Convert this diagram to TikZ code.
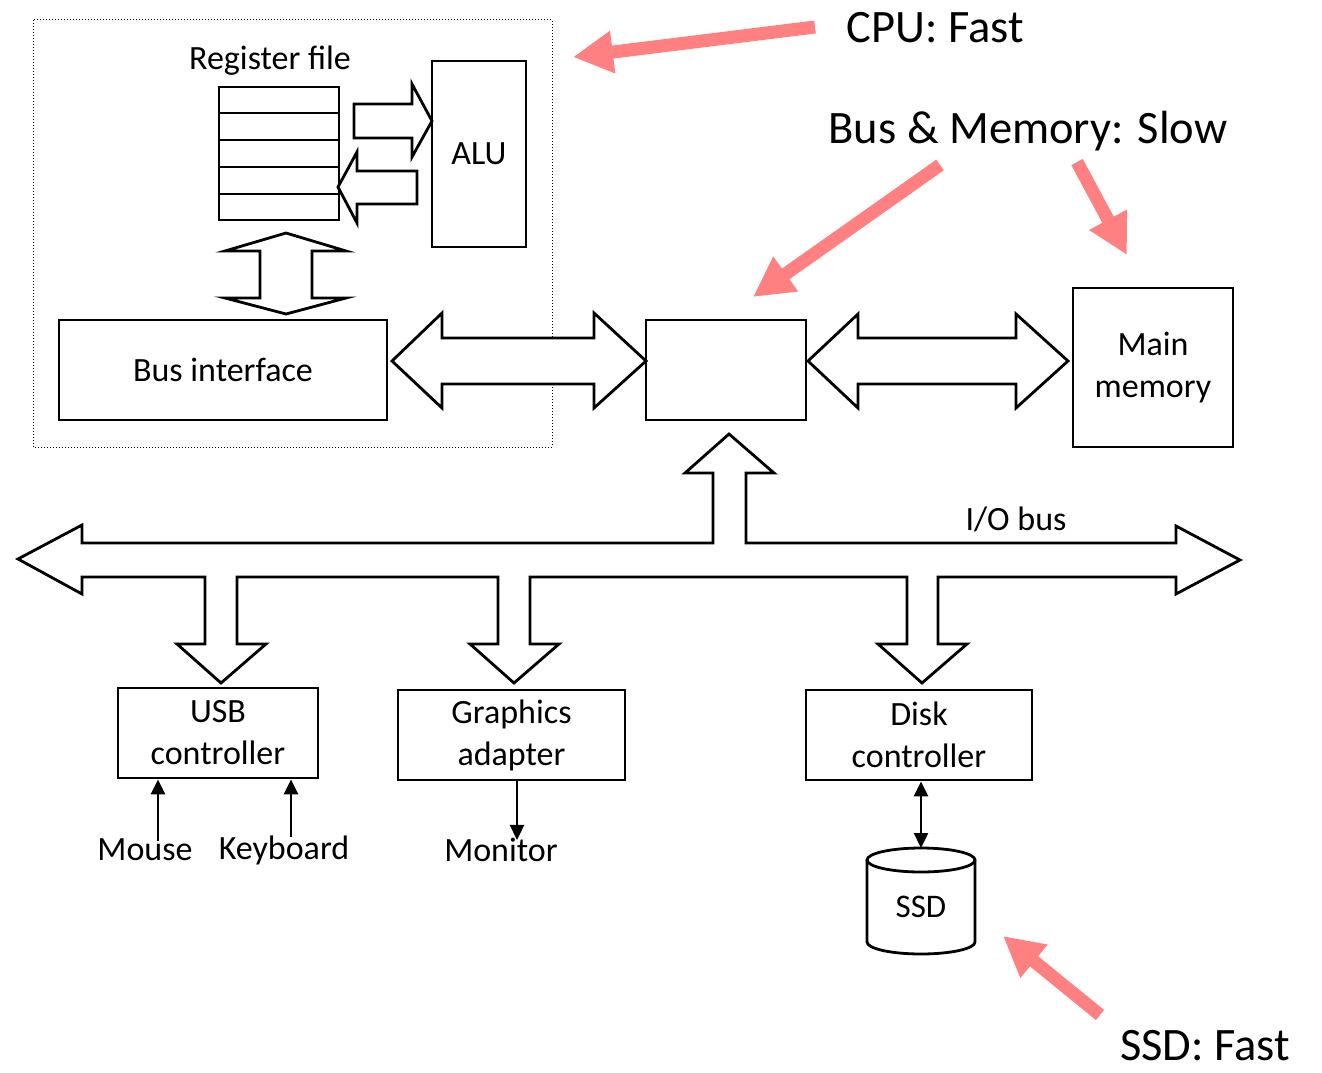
\documentclass[tikz,border=0pt]{standalone}
\usepackage{fontspec}
\setmainfont{Carlito}
\usetikzlibrary{arrows.meta}
\begin{document}
\begin{tikzpicture}[x=1pt,y=-1pt,
  lbl/.style={font=\fontsize{34}{42}\selectfont, align=center, inner sep=0pt},
  big/.style={font=\fontsize{46.5}{52}\selectfont, inner sep=0pt},
  box/.style={draw, line width=2.8pt, inner sep=0pt, font=\fontsize{34}{42}\selectfont, align=center},
  blk/.style={draw, line width=2.8pt, line join=miter, fill=white},
  thin/.style={line width=2.4pt, -{Triangle[length=15pt,width=14pt]}},
  pink/.style={draw=pinkc, line width=13pt, -{Triangle[length=40pt,width=40pt]}}
]
\definecolor{pinkc}{RGB}{255,128,128}
\useasboundingbox (0,0) rectangle (1322,1073);
\fill[white] (0,0) rectangle (1322,1073);

% CPU dotted region
\draw[line width=1pt, dash pattern=on 1pt off 2pt] (33,20) rectangle (552,447);

% Register file
\node[lbl] (regl) at (270,61) {Register file};
\node[draw, line width=2.8pt, minimum width=120pt, minimum height=133pt, inner sep=0pt] (reg) at (279,153.5) {};
\foreach \yy in {113,140,167,194} {\draw[line width=2.8pt] (219,\yy) -- (339,\yy);}

% ALU
\node[box, minimum width=94pt, minimum height=186pt] (alu) at (479,154) {ALU};

% block arrows in CPU
\draw[blk] (354,104) -- (412,104) -- (412,84) -- (432,121) -- (412,157) -- (412,138) -- (354,138) -- cycle;
\draw[blk] (417,171) -- (357,171) -- (357,152) -- (338,187) -- (357,223) -- (357,204) -- (417,204) -- cycle;
\draw[blk] (286,233) -- (346,251) -- (312,251) -- (312,298) -- (346,298) -- (286,314) -- (225,298) -- (260,298) -- (260,251) -- (225,251) -- cycle;

% Bus interface
\node[box, minimum width=328pt, minimum height=100pt] (busif) at (223,370) {Bus interface};

% I/O bridge (unlabelled)
\node[box, minimum width=160pt, minimum height=100pt] (bridge) at (726,370) {};

% Main memory
\node[box, minimum width=160pt, minimum height=159pt] (mem) at (1153,367.5) {Main\\memory};

% horizontal double arrows
\draw[blk] (392,361) -- (442,313) -- (442,338) -- (594,338) -- (594,313) -- (646,361) -- (594,408) -- (594,384) -- (442,384) -- (442,408) -- cycle;
\draw[blk] (808,361) -- (858,314) -- (858,338) -- (1016,338) -- (1016,314) -- (1068,361) -- (1016,408) -- (1016,384) -- (858,384) -- (858,408) -- cycle;

% I/O bus
\draw[blk] (18,559) -- (82,525) -- (82,543) -- (713,543) -- (713,473) -- (685,473) -- (729,434) -- (774,473) -- (746,473) -- (746,543)
  -- (1176,543) -- (1176,526) -- (1240,560) -- (1176,594) -- (1176,577)
  -- (938,577) -- (938,644) -- (967,644) -- (922,683) -- (878,644) -- (907,644) -- (907,577)
  -- (530,577) -- (530,644) -- (559,644) -- (514,683) -- (470,644) -- (498,644) -- (498,577)
  -- (237,577) -- (237,644) -- (266,644) -- (221,683) -- (177,644) -- (205,644) -- (205,577)
  -- (82,577) -- (82,594) -- cycle;
\node[lbl] (iobus) at (1016,519) {I/O bus};

% Controllers
\node[box, minimum width=200pt, minimum height=90pt] (usb) at (218,733) {USB\\controller};
\node[box, minimum width=227pt, minimum height=90pt] (gfx) at (511.5,735) {Graphics\\adapter};
\node[box, minimum width=226pt, minimum height=90pt] (disk) at (919,735) {Disk\\controller};

% Devices
\node[lbl] (mouse) at (145,850) {Mouse};
\node[lbl] (kbd) at (284,850) {Keyboard};
\node[lbl] (mon) at (501,850) {Monitor};
\draw[thin] ([xshift=13pt,yshift=-2pt]mouse.north) -- ([xshift=13pt]mouse.north |- usb.south);
\draw[thin] ([xshift=7pt,yshift=-2pt]kbd.north) -- ([xshift=7pt]kbd.north |- usb.south);
\draw[thin] ([xshift=16pt]mon.north |- gfx.south) -- ([xshift=16pt,yshift=-2pt]mon.north);

% SSD cylinder
\draw[line width=2.8pt] (867,860) -- (867,942) arc[start angle=180, end angle=0, x radius=54, y radius=12] -- (975,860);
\draw[line width=2.8pt] (921,860) ellipse [x radius=54, y radius=12];
\coordinate (ssdtop) at (921,848);
\node[lbl, font=\fontsize{33}{38}\selectfont] (ssd) at (921,907) {SSD};
\draw[line width=2.4pt, {Triangle[length=15pt,width=14pt]}-{Triangle[length=15pt,width=14pt]}] (disk.south -| ssdtop) -- (ssdtop);

% Annotations
\node[big] (cpul) at (935,28) {CPU: Fast};
\node[big] (busl) at (1028,131) {Bus \& Memory: Slow};
\node[big] (ssdl) at (1205,1046) {SSD: Fast};
\coordinate (c1s) at (815,27);  \coordinate (c1e) at (573,57);
\coordinate (b1s) at (940,165); \coordinate (b1e) at (753,297);
\coordinate (b2s) at (1077,162); \coordinate (b2e) at (1127,255);
\coordinate (s1s) at (1100,1015); \coordinate (s1e) at (1003,936);
\draw[pink] (c1s) -- (c1e);
\draw[pink] (b1s) -- (b1e);
\draw[pink] (b2s) -- (b2e);
\draw[pink] (s1s) -- (s1e);
\end{tikzpicture}
\end{document}
